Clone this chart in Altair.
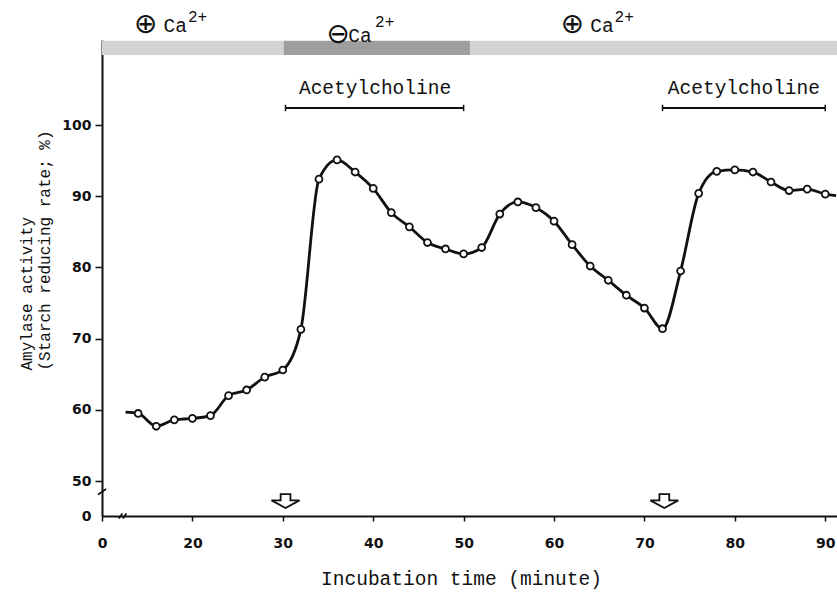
import altair as alt
import pandas as pd

# ---- data ----
times = [14, 16, 18, 20, 22, 24, 26, 28, 30, 32, 34, 36, 38, 40, 42, 44, 46, 48, 50,
         52, 54, 56, 58, 60, 62, 64, 66, 68, 70, 72, 74, 76, 78, 80, 82, 84, 86, 88, 90]
activity = [59.5, 57.7, 58.6, 58.8, 59.2, 62.0, 62.8, 64.6, 65.6, 71.3, 92.4, 95.1, 93.4,
            91.1, 87.7, 85.7, 83.5, 82.6, 81.9, 82.8, 87.5, 89.2, 88.4, 86.5, 83.2, 80.2,
            78.2, 76.1, 74.3, 71.4, 79.5, 90.4, 93.5, 93.7, 93.4, 92.0, 90.8, 91.0, 90.3]
line_start = (12.6, 59.7)
line_end = (91.2, 90.1)

x_ticks = [10, 20, 30, 40, 50, 60, 70, 80, 90]      # 10 is drawn as "0" (broken axis)
y_ticks = [45.1, 50, 60, 70, 80, 90, 100]           # 45.1 is drawn as "0" (broken axis)

band_start = [10, 30.1, 50.7]
band_end = [30.1, 50.7, 91.3]
band_kind = ["plus", "minus", "plus"]
band_lo, band_hi = 109.83, 111.84

ach_start = [30.3, 72.0]
ach_end = [50.0, 90.0]
ach_text_t = [40.2, 81.0]
ach_level = 102.4
ach_text_level = 105.2

arrow_t = [30.3, 72.2]
arrow_level = 47.2

sign_t = [14.8, 36.1, 62.0]
sign_v = [114.0, 112.7, 114.0]
sign_txt = ["\u2295", "\u2296", "\u2295"]
ca_t = [16.8, 37.25, 64.0]
ca_v = [113.06, 111.66, 113.06]
sup_t = [19.5, 40.2, 66.7]
sup_v = [115.2, 114.5, 115.2]

# ---- scales / axes shared by all layers ----
xs = alt.Scale(domain=[10, 91.3], nice=False, zero=False)
ys = alt.Scale(domain=[45.1, 111.94], nice=False, zero=False)

lab_font = "DejaVu Sans"
mono = "Liberation Mono"

xax = alt.Axis(values=x_ticks, labelExpr="datum.value == 10 ? '0' : datum.label",
               title="Incubation time (minute)", titleFont=mono, titleFontSize=19.5,
               titleFontWeight="normal", titleX=359, titleY=62, titleBaseline="middle",
               titleAlign="center", titleColor="#111",
               labelFont=lab_font, labelFontWeight="bold", labelFontSize=14, labelColor="#111",
               labelPadding=15, labelOverlap=False, labelFlush=False,
               tickSize=5, tickWidth=1.5, tickColor="#111",
               domainColor="#111", domainWidth=2, grid=False)
yax = alt.Axis(values=y_ticks, labelExpr="datum.value < 48 ? '0' : datum.label",
               title=["Amylase activity", "(Starch reducing rate; %)"],
               titleFont=mono, titleFontSize=16, titleFontWeight="normal",
               titleAngle=270, titleAlign="left", titleBaseline="top",
               titleX=-84, titleY=330, titleLineHeight=18, titleColor="#111",
               labelFont=lab_font, labelFontWeight="bold", labelFontSize=14, labelColor="#111",
               labelPadding=4, labelOverlap=False, labelFlush=False,
               tickSize=7, tickWidth=1.5, tickColor="#111",
               tickOpacity={"condition": {"test": "datum.value < 48", "value": 0}, "value": 1},
               domainColor="#111", domainWidth=2, grid=False)

X = alt.X("t:Q", scale=xs, axis=xax)
Y = alt.Y("v:Q", scale=ys, axis=yax)

# ---- tables ----
pts = pd.DataFrame({"t": times, "v": activity})
line_df = pd.DataFrame({"t": [line_start[0]] + times + [line_end[0]],
                        "v": [line_start[1]] + activity + [line_end[1]]})
band_df = pd.DataFrame({"t": band_start, "t2": band_end, "v": [band_lo] * 3,
                        "v2": [band_hi] * 3, "kind": band_kind})
ach_df = pd.DataFrame({"t": ach_start, "t2": ach_end, "v": [ach_level] * 2})
cap_df = pd.DataFrame({"t": ach_start + ach_end, "v": [ach_level - 0.45] * 4,
                       "v2": [ach_level + 0.45] * 4})
ach_txt = pd.DataFrame({"t": ach_text_t, "v": [ach_text_level] * 2,
                        "label": ["Acetylcholine"] * 2})
arrow_df = pd.DataFrame({"t": arrow_t, "v": [arrow_level] * 2})
sign_df = pd.DataFrame({"t": sign_t, "v": sign_v, "label": sign_txt})
ca_df = pd.DataFrame({"t": ca_t, "v": ca_v, "label": ["Ca"] * 3})
sup_df = pd.DataFrame({"t": sup_t, "v": sup_v, "label": ["2+"] * 3})
brk_df = pd.DataFrame({"t": [9.55, 11.85, 12.3], "t2": [10.45, 12.25, 12.7],
                       "v": [48.1, 44.75, 44.75], "v2": [48.9, 45.45, 45.45]})

# ---- layers ----
band = alt.Chart(band_df).mark_rect().encode(
    x=X, x2="t2:Q", y=Y, y2="v2:Q",
    color=alt.Color("kind:N", scale=alt.Scale(domain=["plus", "minus"],
                                              range=["#d3d3d3", "#9e9e9e"]), legend=None))

ach = alt.Chart(ach_df).mark_rule(color="#111", strokeWidth=2).encode(x=X, x2="t2:Q", y=Y)
caps = alt.Chart(cap_df).mark_rule(color="#111", strokeWidth=1.5).encode(x=X, y=Y, y2="v2:Q")
ach_t = alt.Chart(ach_txt).mark_text(font=mono, fontSize=19.5, color="#111",
                                     baseline="middle", align="center").encode(x=X, y=Y, text="label:N")

signs = alt.Chart(sign_df).mark_text(font="DejaVu Sans", fontSize=28, color="#111",
                                     baseline="middle", align="center").encode(x=X, y=Y, text="label:N")
ca = alt.Chart(ca_df).mark_text(font=mono, fontSize=19.5, color="#111",
                                baseline="alphabetic", align="left").encode(x=X, y=Y, text="label:N")
sup = alt.Chart(sup_df).mark_text(font=mono, fontSize=16, color="#111",
                                  baseline="middle", align="left").encode(x=X, y=Y, text="label:N")

line = alt.Chart(line_df).mark_line(color="#111", strokeWidth=2.8,
                                    interpolate="monotone").encode(x=X, y=Y)
points = alt.Chart(pts).mark_point(shape="circle", size=48, filled=True, fill="white",
                                   stroke="#111", strokeWidth=1.8, opacity=1).encode(x=X, y=Y)

arrow_path = ("M-0.35,-0.5 L0.35,-0.5 L0.35,-0.05 L1,-0.05 L0,0.5 "
              "L-1,-0.05 L-0.35,-0.05 Z")
arrows = alt.Chart(arrow_df).mark_point(shape=arrow_path, size=784, filled=True, fill="white",
                                        stroke="#111", strokeWidth=1.8, opacity=1).encode(x=X, y=Y)

breaks = alt.Chart(brk_df).mark_rule(color="#111", strokeWidth=1.8).encode(
    x=X, x2="t2:Q", y=Y, y2="v2:Q")

chart = alt.layer(band, ach, caps, ach_t, signs, ca, sup, line, points, arrows, breaks).properties(
    width=735, height=476,
    padding={"left": 102, "top": 40, "right": 0, "bottom": 76},
    autosize=alt.AutoSizeParams(type="none"),
    background="white",
).configure_view(stroke=None)

chart.save("out.html", embed_options={"renderer": "svg", "actions": False})
